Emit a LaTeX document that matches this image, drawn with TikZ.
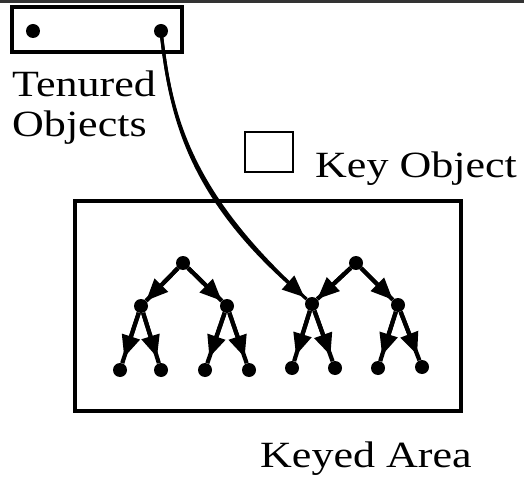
\documentclass[tikz,border=0pt]{standalone}
\usepackage{fontspec}
\setmainfont{Liberation Serif}
\usetikzlibrary{arrows.meta}
\newcommand{\widetxt}[1]{\scalebox{1.19}[1]{#1}}
\tikzset{
  dot/.style={circle, fill=black, inner sep=0pt, minimum size=14pt},
  lbl/.style={anchor=base west, inner sep=0pt, font=\fontsize{37}{37}\selectfont},
  frame/.style={draw=black, line width=3.4pt},
  tline/.style={line width=4.2pt},
  tarr/.style={line width=4.2pt, -{Triangle[length=22pt,width=18pt]}},
}
\newcommand{\tedge}[3]{\draw[tline] (#1) -- (#2); \draw[tarr, shorten >=#3] (#1) -- (#2);}
\begin{document}
\begin{tikzpicture}[x=1pt,y=-1pt]
\useasboundingbox (0,0) rectangle (524,478);
\fill[black!80] (0,0) rectangle (524,3);
% tenured box
\draw[frame] (12,7) rectangle (182,52);
\node[dot] (t1) at (33,31) {};
\node[dot] (t2) at (161,31) {};
\node[lbl] (ten) at (12,97) {\widetxt{Tenured}};
\node[lbl] (obj) at (12,137) {\widetxt{Objects}};
% key object
\draw[line width=2.8pt] (245,132) rectangle (293,172);
\node[lbl] (key) at (315,178) {\widetxt{Key Object}};
% keyed area
\draw[frame] (75,201) rectangle (461,411);
\node[lbl] (area) at (260,467) {\widetxt{Keyed Area}};
% tree 1
\node[dot] (r1) at (183,263) {};
\node[dot] (a1) at (141,306) {};
\node[dot] (b1) at (227,306) {};
\node[dot] (l1) at (120,370) {};
\node[dot] (l2) at (161,370) {};
\node[dot] (l3) at (205,370) {};
\node[dot] (l4) at (249,370) {};
% tree 2
\node[dot] (r2) at (356,263) {};
\node[dot] (a2) at (312,304) {};
\node[dot] (b2) at (398,305) {};
\node[dot] (m1) at (292,368) {};
\node[dot] (m2) at (335,368) {};
\node[dot] (m3) at (378,368) {};
\node[dot] (m4) at (422,367) {};
\tedge{r1}{a1}{0pt}
\tedge{r1}{b1}{0pt}
\tedge{a1}{l1}{6pt}
\tedge{a1}{l2}{6pt}
\tedge{b1}{l3}{6pt}
\tedge{b1}{l4}{6pt}
\tedge{r2}{a2}{0pt}
\tedge{r2}{b2}{0pt}
\tedge{a2}{m1}{6pt}
\tedge{a2}{m2}{6pt}
\tedge{b2}{m3}{6pt}
\tedge{b2}{m4}{6pt}
% curved pointer
\draw[line width=3.2pt] (t2.center) .. controls (170,110) and (185,190) .. (a2);
\draw[line width=3.2pt, -{Triangle[length=22pt,width=18pt]}, shorten >=3pt] (t2.center) .. controls (170,110) and (185,190) .. (a2);
\end{tikzpicture}
\end{document}
